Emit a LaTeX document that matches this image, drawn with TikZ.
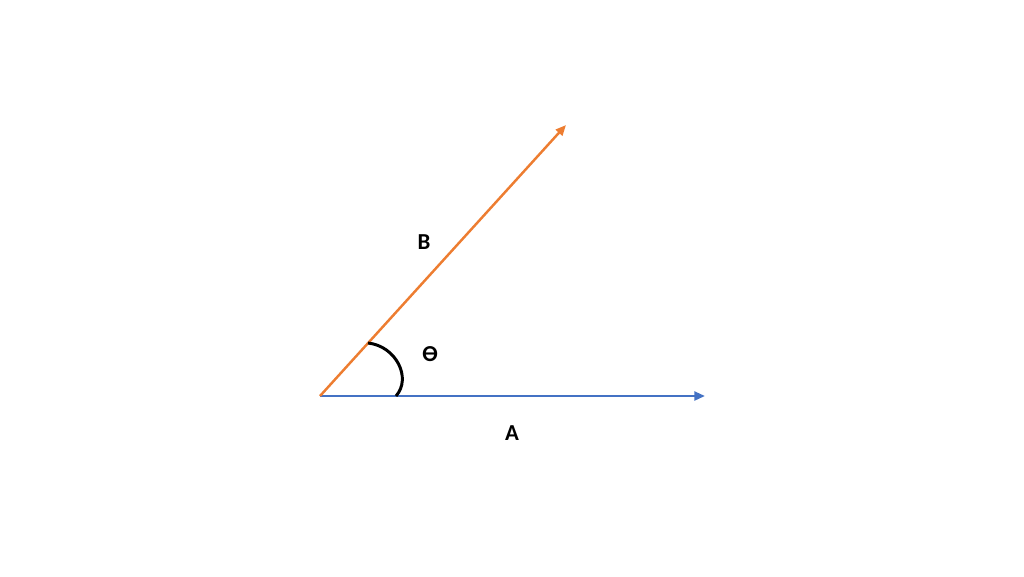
\documentclass[tikz,border=0pt]{standalone}
\usepackage{fontspec}
\setmainfont{Carlito}
\usetikzlibrary{arrows.meta}
\definecolor{vecA}{HTML}{4472C4}
\definecolor{vecB}{HTML}{ED7D31}
\begin{document}
\begin{tikzpicture}[x=0.02cm,y=-0.02cm,
    vec/.style={line width=1.4pt,-{Triangle[length=6pt,width=5pt]}},
    lbl/.style={font=\fontsize{13}{15}\selectfont\bfseries}]
    \useasboundingbox (0,0) rectangle (1024,576);
    \coordinate (o) at (320,396);
    \coordinate (a) at (705,396);
    \coordinate (b) at (566,125);
    \coordinate (p) at (368,343);
    \coordinate (q) at (396,396);
    
    \draw[vec,vecA] (o)--(a);
    \draw[vec,vecB] (o)--(b);
    \draw[line width=1.7pt,black] (p) .. controls (396,346) and (412,378) .. (q);
    
    \node[lbl] (la) at (512,433) {A};
    \node[lbl] (lb) at (424,242) {B};
    \node[lbl] (lt) at (430,354) {Ɵ};
    
\end{tikzpicture}
\end{document}
